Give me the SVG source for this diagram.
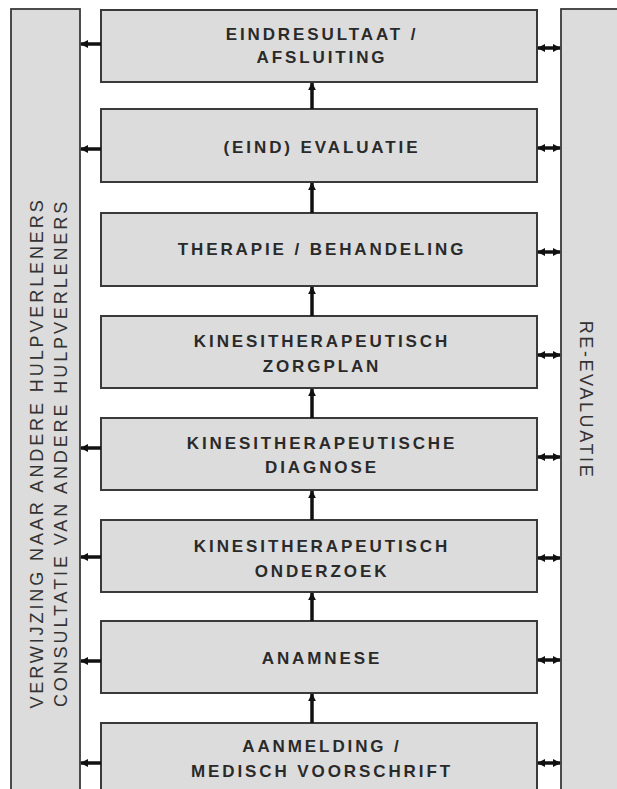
<svg xmlns="http://www.w3.org/2000/svg" width="617" height="789" viewBox="0 0 617 789">
<style>
.panel{fill:#dcdcdc;stroke:#3a3a3a;stroke-width:1.8}
.box{fill:#dcdcdc;stroke:#3a3a3a;stroke-width:2}
.t{font-family:"Liberation Sans",Arial,sans-serif;font-weight:bold;font-size:17px;letter-spacing:2.9px;fill:#2a2a2a;text-anchor:middle}
.vt{font-family:"Liberation Sans",Arial,sans-serif;font-size:18px;letter-spacing:2.9px;fill:#333;text-anchor:middle}
.c{stroke:#111;stroke-width:3.5;fill:none}
</style>
<defs>
<marker id="ah" viewBox="0 0 10 10" refX="9" refY="5" markerUnits="userSpaceOnUse" markerWidth="8" markerHeight="10" orient="auto-start-reverse">
<path d="M0,0 L10,5 L0,10 z" fill="#111"/>
</marker>
</defs>
<rect width="617" height="789" fill="#ffffff"/>
<g id="panel-left">
<rect class="panel" x="11" y="9" width="69" height="800"/>
<text class="vt" transform="translate(43,453) rotate(-90)">VERWIJZING NAAR ANDERE HULPVERLENERS</text>
<text class="vt" transform="translate(67,453) rotate(-90)">CONSULTATIE VAN ANDERE HULPVERLENERS</text>
</g>
<g id="panel-right">
<rect class="panel" x="561" y="9" width="70" height="800"/>
<text class="vt" transform="translate(580,400) rotate(90)" style="letter-spacing:2.6px">RE-EVALUATIE</text>
</g>
<g id="n1"><rect class="box" x="101" y="10" width="436" height="72"/>
<text class="t" x="322" y="40">EINDRESULTAAT /</text><text class="t" x="322" y="63">AFSLUITING</text></g>
<g id="n2"><rect class="box" x="101" y="109" width="436" height="73"/>
<text class="t" x="322" y="153">(EIND) EVALUATIE</text></g>
<g id="n3"><rect class="box" x="101" y="213" width="436" height="73"/>
<text class="t" x="322" y="255">THERAPIE / BEHANDELING</text></g>
<g id="n4"><rect class="box" x="101" y="316" width="436" height="72"/>
<text class="t" x="322" y="347">KINESITHERAPEUTISCH</text><text class="t" x="322" y="372">ZORGPLAN</text></g>
<g id="n5"><rect class="box" x="101" y="418" width="436" height="72"/>
<text class="t" x="322" y="449">KINESITHERAPEUTISCHE</text><text class="t" x="322" y="473">DIAGNOSE</text></g>
<g id="n6"><rect class="box" x="101" y="520" width="436" height="72"/>
<text class="t" x="322" y="552">KINESITHERAPEUTISCH</text><text class="t" x="322" y="577">ONDERZOEK</text></g>
<g id="n7"><rect class="box" x="101" y="621" width="436" height="72"/>
<text class="t" x="322" y="664">ANAMNESE</text></g>
<g id="n8"><rect class="box" x="101" y="723" width="436" height="90"/>
<text class="t" x="322" y="752">AANMELDING /</text><text class="t" x="322" y="777">MEDISCH VOORSCHRIFT</text></g>
<g id="connectors">
<path class="c" d="M312,109 V83" marker-end="url(#ah)"/>
<path class="c" d="M312,213 V183" marker-end="url(#ah)"/>
<path class="c" d="M312,316 V287" marker-end="url(#ah)"/>
<path class="c" d="M312,418 V389" marker-end="url(#ah)"/>
<path class="c" d="M312,520 V491" marker-end="url(#ah)"/>
<path class="c" d="M312,621 V593" marker-end="url(#ah)"/>
<path class="c" d="M312,723 V694" marker-end="url(#ah)"/>
<path class="c" d="M101,44 H81" marker-end="url(#ah)"/>
<path class="c" d="M101,149 H81" marker-end="url(#ah)"/>
<path class="c" d="M101,448 H81" marker-end="url(#ah)"/>
<path class="c" d="M101,557 H81" marker-end="url(#ah)"/>
<path class="c" d="M101,661 H81" marker-end="url(#ah)"/>
<path class="c" d="M101,763 H81" marker-end="url(#ah)"/>
<path class="c" d="M538,48 H560" marker-start="url(#ah)" marker-end="url(#ah)"/>
<path class="c" d="M538,148 H560" marker-start="url(#ah)" marker-end="url(#ah)"/>
<path class="c" d="M538,252 H560" marker-start="url(#ah)" marker-end="url(#ah)"/>
<path class="c" d="M538,355 H560" marker-start="url(#ah)" marker-end="url(#ah)"/>
<path class="c" d="M538,457 H560" marker-start="url(#ah)" marker-end="url(#ah)"/>
<path class="c" d="M538,558 H560" marker-start="url(#ah)" marker-end="url(#ah)"/>
<path class="c" d="M538,660 H560" marker-start="url(#ah)" marker-end="url(#ah)"/>
<path class="c" d="M538,763 H560" marker-start="url(#ah)" marker-end="url(#ah)"/>
</g>
</svg>
